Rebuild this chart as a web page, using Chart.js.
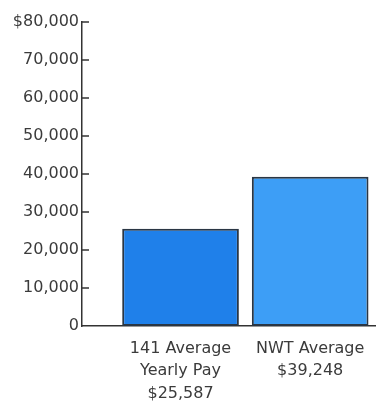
<!DOCTYPE html>
<html>
<head>
<meta charset="utf-8">
<script src="https://cdn.jsdelivr.net/npm/chart.js@4"></script>
<style>
  html, body { margin: 0; padding: 0; background: #ffffff; }
  #wrap { width: 376px; height: 401px; position: relative; }
</style>
</head>
<body>
<div id="wrap"><canvas id="payChart"></canvas></div>
<script>
// categories (multi-line labels) and values
const categories = [
  ["141 Average", "Yearly Pay", "$25,587"],
  ["NWT Average", "$39,248"]
];
const positions = [1, 2];
const payValues = [25587, 39248];
const barColors = ["#1f80ea", "#3d9ef6"];

const yTicks = [0, 10000, 20000, 30000, 40000, 50000, 60000, 70000, 80000];

const textColor = "#3b3b3b";
const axisColor = "#333333";

// small tick marks drawn inside the plot, to the right of the y axis
const innerTicks = {
  id: "innerTicks",
  afterDraw(chart) {
    const ctx = chart.ctx;
    const y = chart.scales.y;
    const left = chart.chartArea.left;
    ctx.save();
    ctx.strokeStyle = axisColor;
    ctx.lineWidth = 1.5;
    yTicks.forEach(function(v) {
      if (v === 0) return;
      const py = y.getPixelForValue(v);
      ctx.beginPath();
      ctx.moveTo(left, py);
      ctx.lineTo(left + 7, py);
      ctx.stroke();
    });
    ctx.restore();
  }
};

const ctx = document.getElementById("payChart").getContext("2d");

new Chart(ctx, {
  type: "bar",
  data: {
    datasets: [
      {
        data: positions.map(function(p, i) {
          return { x: p, y: payValues[i] };
        }),
        backgroundColor: barColors,
        borderColor: "#2a3644",
        borderWidth: 2,
        borderSkipped: false,
        barPercentage: 0.9,
        categoryPercentage: 1.0
      }
    ]
  },
  options: {
    responsive: true,
    maintainAspectRatio: false,
    animation: false,
    layout: {
      padding: { top: 22, right: 1, left: 0, bottom: 0 }
    },
    plugins: {
      legend: { display: false },
      tooltip: { enabled: false }
    },
    scales: {
      x: {
        type: "linear",
        min: 0.24,
        max: 2.5,
        offset: false,
        grid: { display: false, drawTicks: false },
        border: { display: true, color: axisColor, width: 1.5 },
        afterFit: function(scale) {
          scale.height = 75;
        },
        afterBuildTicks: function(scale) {
          scale.ticks = positions.map(function(p) { return { value: p }; });
        },
        ticks: {
          color: textColor,
          padding: 11,
          maxRotation: 0,
          autoSkip: false,
          font: { family: "'DejaVu Sans'", size: 16, lineHeight: 1.42 },
          callback: function(value) {
            const i = positions.indexOf(value);
            return i >= 0 ? categories[i] : "";
          }
        }
      },
      y: {
        min: 0,
        max: 80000,
        grid: { display: false, drawTicks: false },
        border: { display: true, color: axisColor, width: 1.5 },
        afterFit: function(scale) {
          scale.width = 82;
        },
        afterBuildTicks: function(scale) {
          scale.ticks = yTicks.map(function(v) { return { value: v }; });
        },
        ticks: {
          color: textColor,
          padding: 3,
          font: { family: "'DejaVu Sans'", size: 16 },
          callback: function(value) {
            const s = value.toLocaleString("en-US");
            return value === 80000 ? "$" + s : s;
          }
        }
      }
    }
  },
  plugins: [innerTicks]
});
</script>
</body>
</html>
